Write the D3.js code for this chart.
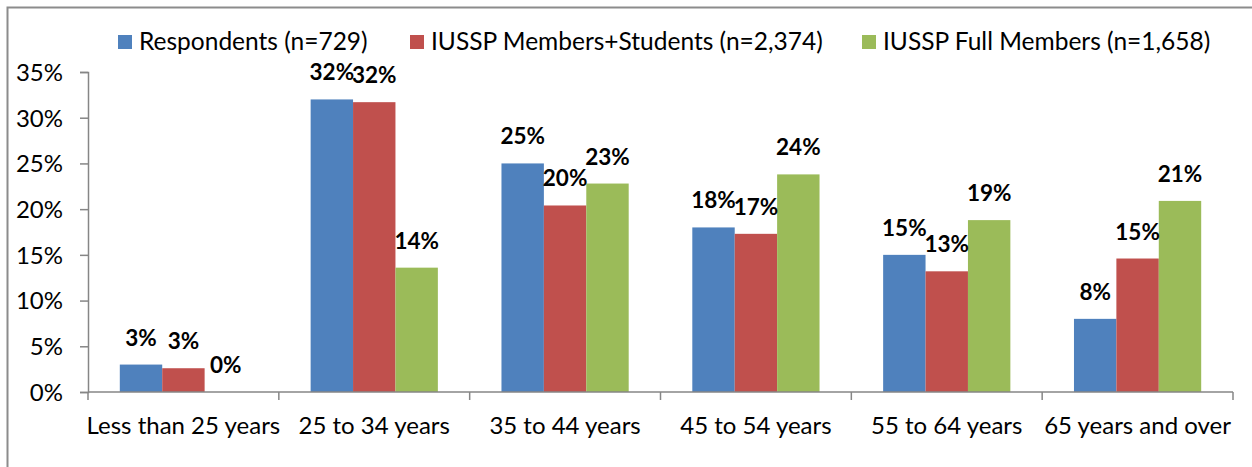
<!DOCTYPE html>
<html>
<head>
<meta charset="utf-8">
<script src="https://cdn.jsdelivr.net/npm/d3@7"></script>
<style>
  body { margin: 0; background: #fff; }
  svg text { font-family: Lato, "Open Sans", sans-serif; fill: #000; }
</style>
</head>
<body>
<div id="chart"></div>
<script>
// data
var ageGroups = ["Less than 25 years", "25 to 34 years", "35 to 44 years", "45 to 54 years", "55 to 64 years", "65 years and over"];
var seriesNames = ["Respondents (n=729)", "IUSSP Members+Students (n=2,374)", "IUSSP Full Members (n=1,658)"];
var respondents = [0.030, 0.320, 0.250, 0.180, 0.150, 0.080];
var membersStudents = [0.026, 0.317, 0.204, 0.173, 0.132, 0.146];
var fullMembers = [0.000, 0.136, 0.228, 0.238, 0.188, 0.209];
var yTicks = [0, 0.05, 0.10, 0.15, 0.20, 0.25, 0.30, 0.35];

var colors = ["#4F81BD", "#C0504D", "#9BBB59"];
var allSeries = [respondents, membersStudents, fullMembers];

var W = 1252, H = 467;
var svg = d3.select("#chart").append("svg")
  .attr("width", W)
  .attr("height", H);

// chart border (only top and left are inside the picture)
svg.append("rect")
  .attr("x", 7.5).attr("y", 7.5)
  .attr("width", 1300).attr("height", 600)
  .attr("fill", "none")
  .attr("stroke", "#8c8c8c")
  .attr("stroke-width", 2);

var x0 = d3.scaleBand().domain(ageGroups).range([88, 1233]);
var bw = x0.bandwidth();
var x1 = d3.scaleBand().domain(d3.range(3)).range([bw / 6, bw * 5 / 6]);
var y = d3.scaleLinear().domain([0, 0.35]).range([392, 72]);

var rows = [];
ageGroups.forEach(function(g, i) {
  allSeries.forEach(function(s, j) {
    rows.push({ group: g, s: j, v: s[i] });
  });
});

// bars
svg.append("g").selectAll("rect")
  .data(rows)
  .enter().append("rect")
  .attr("x", function(d) { return x0(d.group) + x1(d.s); })
  .attr("width", x1.bandwidth())
  .attr("y", function(d) { return y(d.v); })
  .attr("height", function(d) { return y(0) - y(d.v); })
  .attr("fill", function(d) { return colors[d.s]; });

// value labels
var fmt = d3.format(".0%");
svg.append("g").selectAll("text")
  .data(rows)
  .enter().append("text")
  .attr("x", function(d) { return x0(d.group) + x1(d.s) + x1.bandwidth() / 2; })
  .attr("y", function(d) { return y(d.v) - 19; })
  .attr("text-anchor", "middle")
  .style("font-size", "22.5px")
  .style("font-weight", "bold")
  .text(function(d) { return fmt(d.v); });

// y axis
var yAxis = d3.axisLeft(y).tickValues(yTicks).tickFormat(d3.format(".0%"))
  .tickSize(8).tickPadding(17);
var gy = svg.append("g").attr("transform", "translate(88,0)").call(yAxis);
gy.select(".domain").attr("stroke", "#868686").attr("stroke-width", 1.5);
gy.selectAll(".tick line").attr("stroke", "#868686").attr("stroke-width", 1.5);
gy.selectAll(".tick text").style("font-size", "24px").attr("dy", "0.35em");

// x axis
var gx = svg.append("g").attr("transform", "translate(0,392)");
gx.append("line")
  .attr("x1", 88).attr("x2", 1233)
  .attr("stroke", "#868686").attr("stroke-width", 1.5);
gx.selectAll(".xt")
  .data(ageGroups.concat(["end"]))
  .enter().append("line")
  .attr("x1", function(d, i) { return i < ageGroups.length ? x0(d) : x0.range()[1]; })
  .attr("x2", function(d, i) { return i < ageGroups.length ? x0(d) : x0.range()[1]; })
  .attr("y1", 0).attr("y2", 8)
  .attr("stroke", "#868686").attr("stroke-width", 1.5);
gx.selectAll(".xl")
  .data(ageGroups)
  .enter().append("text")
  .attr("x", function(d) { return x0(d) + bw / 2; })
  .attr("y", 42)
  .attr("text-anchor", "middle")
  .style("font-size", "24px")
  .text(function(d) { return d; });

// legend
var legendX = [118, 410, 862];
var lg = svg.append("g").selectAll("g")
  .data(seriesNames)
  .enter().append("g")
  .attr("transform", function(d, i) { return "translate(" + legendX[i] + ",0)"; });
lg.append("rect")
  .attr("x", 0).attr("y", 35)
  .attr("width", 14).attr("height", 14)
  .attr("fill", function(d, i) { return colors[i]; });
lg.append("text")
  .attr("x", 21).attr("y", 50)
  .style("font-size", "24.5px")
  .text(function(d) { return d; });
</script>
</body>
</html>
